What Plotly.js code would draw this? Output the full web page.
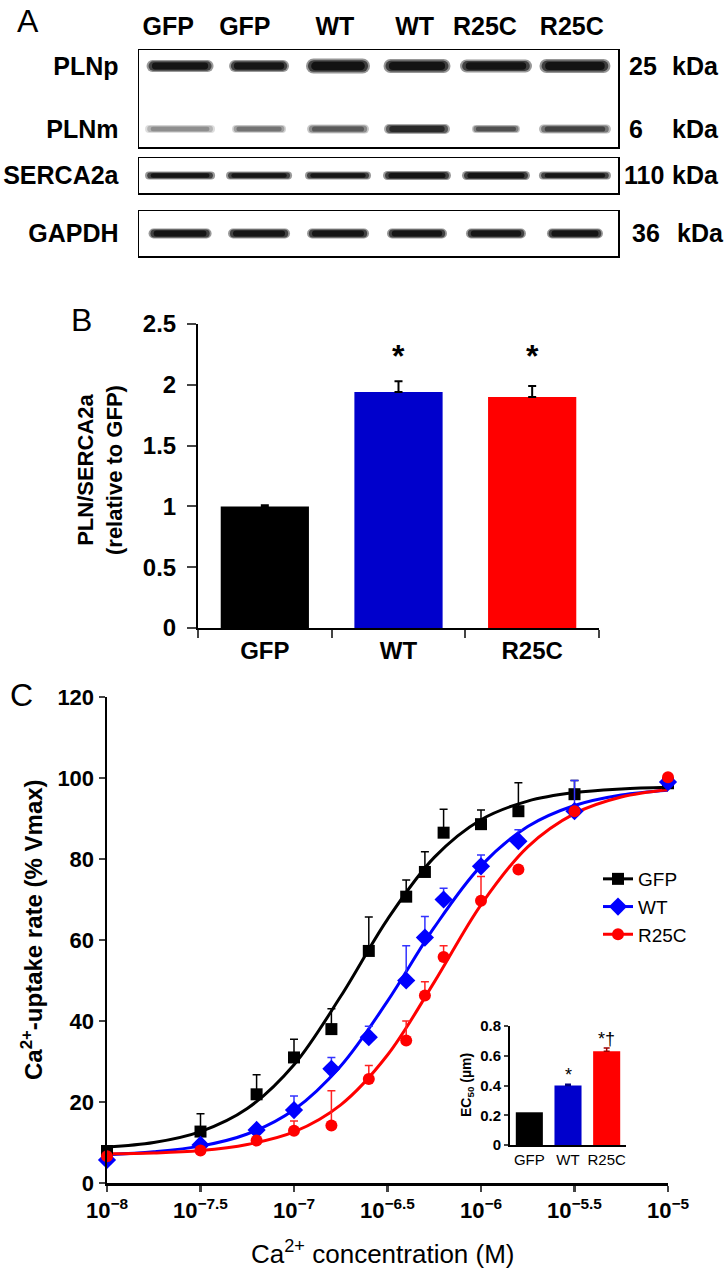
<!DOCTYPE html>
<html><head><meta charset="utf-8">
<script src="https://cdn.plot.ly/plotly-3.0.1.min.js"></script>
<style>body{margin:0;background:#fff} path.point{stroke-linecap:round}</style></head>
<body><div id="chart" style="width:724px;height:1280px"></div>
<script>
// ---------- Panel A: western blot ----------
const lanes = [1, 2, 3, 4, 5, 6];
const laneLabels = ['GFP', 'GFP', 'WT', 'WT', 'R25C', 'R25C'];
const blotRows = ['PLNp', 'PLNm', 'SERCA2a', 'GAPDH'];
const kdaNumbers = ['25', '6', '110', '36'];
const plnpIntensity = [0.95, 0.94, 0.98, 0.97, 0.96, 0.97];
const plnmIntensity = [0.3, 0.4, 0.5, 0.78, 0.55, 0.62];
const sercaIntensity = [0.95, 0.94, 0.94, 0.96, 0.96, 0.94];
const gapdhIntensity = [0.96, 0.94, 0.95, 0.95, 0.94, 0.95];

// ---------- Panel B ----------
const groups = ['GFP', 'WT', 'R25C'];
const plnRatio = [1.0, 1.94, 1.90];
const plnRatioErr = [0.01, 0.09, 0.09];

// ---------- Panel C ----------
const concExp = [-8, -7.5, -7.2, -7, -6.8, -6.6, -6.4, -6.3, -6.2, -6, -5.8, -5.5, -5];
const gfpUptake = [7.9, 12.7, 21.9, 31.0, 38.0, 57.3, 70.7, 76.8, 86.5, 88.6, 91.8, 96.0, 98.7];
const gfpErr = [0, 4.4, 4.8, 4.5, 5.0, 8.4, 4.1, 5.0, 5.8, 3.5, 7.0, 3.4, 0];
const wtUptake = [5.7, 9.4, 13.1, 18.0, 28.2, 36.0, 50.0, 60.6, 70.0, 78.2, 84.4, 91.8, 99.0];
const wtErr = [0, 0, 0, 3.5, 2.8, 2.7, 8.6, 5.2, 2.8, 2.8, 2.8, 7.6, 0];
const r25cUptake = [6.6, 8.0, 10.5, 12.9, 14.2, 25.7, 35.2, 46.3, 55.8, 69.7, 77.4, 91.8, 100.2];
const r25cErr = [0, 0, 0, 2.4, 8.6, 3.3, 4.8, 3.4, 2.8, 6.0, 0, 0, 0];
// fitted curves
const fitExp = [-8, -7.75, -7.5, -7.25, -7, -6.75, -6.5, -6.25, -6, -5.75, -5.5, -5.25, -5];
const gfpFit = [8.9, 10.0, 12.7, 18.4, 29.2, 46.1, 65.1, 80.4, 89.7, 94.3, 96.4, 97.3, 97.7];
const wtFit = [7.0, 7.7, 9.1, 12.1, 18.1, 28.9, 44.9, 63.1, 78.3, 88.0, 93.2, 95.8, 97.0];
const r25cFit = [7.2, 7.4, 8.0, 9.5, 12.6, 19.3, 31.6, 49.6, 68.7, 83.0, 91.2, 95.3, 97.1];
const xTickExp = [-8, -7.5, -7, -6.5, -6, -5.5, -5];
const xTickText = ['10<sup>−8</sup>', '10<sup>−7.5</sup>', '10<sup>−7</sup>', '10<sup>−6.5</sup>', '10<sup>−6</sup>', '10<sup>−5.5</sup>', '10<sup>−5</sup>'];
// inset
const ec50 = [0.22, 0.40, 0.63];
const ec50Err = [0.0, 0.008, 0.022];

// ---------- styles ----------
const F = '"Liberation Sans", Arial, sans-serif';
const px = x => x / 724;
const py = y => 1 - y / 1280;
const colC = ['#000000', '#0000ff', '#ff0000'];
const colB = ['#000000', '#0000cc', '#ff0000'];
const laneLabelShift = [-0.15, -0.18, -0.04, -0.03, -0.14, -0.04];
const plnpLen = [67, 60, 64, 67, 72, 71], plnpThick = [12, 12, 15, 14, 13, 14];
const plnmLen = [70, 54, 62, 66, 48, 72], plnmThick = [8, 8, 9, 10, 8, 9];
const sercaLen = [70, 66, 66, 68, 68, 72], sercaThick = [8, 8, 8, 9, 9, 8];
const gapdhLen = [63, 62, 62, 60, 60, 56], gapdhThick = [10, 10, 10, 10, 10, 10];

// line-ew marker length = 1.4 * size, plus round caps (thickness)
function bandTraces(xa, ya, rowY, inten, lens, thick) {
  const base = {type: 'scatter', mode: 'markers', xaxis: xa, yaxis: ya, x: lanes,
    y: lanes.map(() => rowY), showlegend: false, hoverinfo: 'skip', cliponaxis: false};
  const layer = (lenF, thF, aF) => Object.assign({}, base, {marker: {symbol: 'line-ew',
    size: lens.map((v, i) => Math.max(1, (v * lenF - thick[i] * thF) / 1.4)),
    line: {width: thick.map(v => v * thF), color: inten.map(v => `rgba(0,0,0,${Math.min(1, v * aF).toFixed(3)})`)}}});
  return [layer(1, 1.0, 0.6), layer(0.94, 0.78, 0.85), layer(0.84, 0.58, 1.0)];
}

const traces = [];
traces.push(...bandTraces('x5', 'y5', 1, plnpIntensity, plnpLen, plnpThick));
traces.push(...bandTraces('x5', 'y5', 0, plnmIntensity, plnmLen, plnmThick));
traces.push(...bandTraces('x6', 'y6', 0, sercaIntensity, sercaLen, sercaThick));
traces.push(...bandTraces('x7', 'y7', 0, gapdhIntensity, gapdhLen, gapdhThick));

// Panel B bars
traces.push({type: 'bar', xaxis: 'x2', yaxis: 'y2', x: groups, y: plnRatio, width: 0.66,
  marker: {color: colB, line: {width: 0}}, showlegend: false, hoverinfo: 'skip',
  error_y: {type: 'data', symmetric: false, array: plnRatioErr, arrayminus: plnRatioErr.map(() => 0),
    color: '#000', thickness: 2, width: 4}});

// Panel C fits + points
const names = ['GFP', 'WT', 'R25C'];
const fits = [gfpFit, wtFit, r25cFit];
const pts = [gfpUptake, wtUptake, r25cUptake];
const errs = [gfpErr, wtErr, r25cErr];
const symbols = ['square', 'diamond', 'circle'];
const sizes = [12, 14, 12];
const errCol = ['#000000', '#3333ff', '#ff2222'];
fits.forEach((f, i) => traces.push({type: 'scatter', mode: 'lines', xaxis: 'x', yaxis: 'y',
  x: fitExp.map(e => Math.pow(10, e)), y: f, line: {color: colC[i], width: 3, shape: 'spline'},
  showlegend: false, hoverinfo: 'skip'}));
pts.forEach((p, i) => traces.push({type: 'scatter', mode: 'markers', xaxis: 'x', yaxis: 'y',
  x: concExp.map(e => Math.pow(10, e)), y: p, cliponaxis: false,
  marker: {symbol: symbols[i], size: sizes[i], color: colC[i]},
  error_y: {type: 'data', symmetric: false, array: errs[i], arrayminus: errs[i].map(() => 0),
    color: errCol[i], thickness: 1.5, width: 4},
  showlegend: false, hoverinfo: 'skip'}));
names.forEach((n, i) => traces.push({type: 'scatter', mode: 'lines+markers', xaxis: 'x', yaxis: 'y',
  x: [null], y: [null], name: n, line: {color: colC[i], width: 3},
  marker: {symbol: symbols[i], size: sizes[i], color: colC[i]}}));

// inset
groups.forEach((g, i) => traces.push({type: 'bar', xaxis: 'x4', yaxis: 'y4', x: [g], y: [ec50[i]], width: 0.7,
  marker: {color: colB[i], line: {width: 0}}, showlegend: false, hoverinfo: 'skip',
  error_y: {type: 'data', symmetric: false, array: [ec50Err[i]], arrayminus: [0],
    color: i === 0 ? '#000' : (i === 1 ? '#000080' : '#a00000'), thickness: 1.5, width: 3, visible: ec50Err[i] > 0}}));

const blotX = {range: [0.48, 6.545], showline: true, mirror: true, linewidth: 1.5, linecolor: '#000',
  ticks: '', showticklabels: false, showgrid: false, zeroline: false};
const blotY = (vals, names, rng, dom, anc) => ({domain: dom, anchor: anc, range: rng,
  tickmode: 'array', tickvals: vals, ticktext: names,
  showline: true, mirror: true, linewidth: 1.5, linecolor: '#000',
  ticks: '', showgrid: false, zeroline: false, tickfont: {size: 25, weight: 'bold'}, ticklabelstandoff: 14});

const ann = [];
const A = (o) => ann.push(Object.assign({showarrow: false, xanchor: 'center', yanchor: 'middle'}, o));
// panel letters
A({xref: 'paper', yref: 'paper', x: px(28), y: py(21), text: 'A', font: {size: 32}});
A({xref: 'paper', yref: 'paper', x: px(81), y: py(320), text: 'B', font: {size: 32}});
A({xref: 'paper', yref: 'paper', x: px(21), y: py(695), text: 'C', font: {size: 32}});
// kDa labels
const kdaRowRefs = [['y5', 1], ['y5', 0], ['y6', 0], ['y7', 0]];
const numLeft = [627, 627, 622, 630], kdaLeft = [670, 670, 670, 675];
kdaNumbers.forEach((n, i) => {
  A({xref: 'paper', yref: kdaRowRefs[i][0], x: px(numLeft[i]), y: kdaRowRefs[i][1], xanchor: 'left',
    text: n, font: {size: 25, weight: 'bold'}});
  A({xref: 'paper', yref: kdaRowRefs[i][0], x: px(kdaLeft[i]), y: kdaRowRefs[i][1], xanchor: 'left',
    text: 'kDa', font: {size: 25, weight: 'bold'}});
});
// panel B
A({xref: 'paper', yref: 'paper', x: px(100), y: py(470), textangle: -90,
  text: 'PLN/SERCA2a<br>(relative to GFP)', font: {size: 22, weight: 'bold'}});
A({xref: 'x2', yref: 'y2', x: 'WT', y: 2.24, text: '*', font: {size: 32, weight: 'bold'}});
A({xref: 'x2', yref: 'y2', x: 'R25C', y: 2.24, text: '*', font: {size: 32, weight: 'bold'}});
// panel C titles
A({xref: 'paper', yref: 'paper', x: px(32), y: py(930), textangle: -90,
  text: 'Ca<sup>2+</sup>-uptake rate (% Vmax)', font: {size: 24, weight: 'bold'}});
A({xref: 'paper', yref: 'paper', x: px(383), y: py(1252),
  text: 'Ca<sup>2+</sup> concentration (M)', font: {size: 26}});
// inset
A({xref: 'paper', yref: 'paper', x: px(467), y: py(1085), textangle: -90,
  text: 'EC<sub>50</sub> (µm)', font: {size: 14, weight: 'bold'}});
A({xref: 'x4', yref: 'y4', x: 'WT', y: 0.47, text: '*', font: {size: 18}});
A({xref: 'x4', yref: 'y4', x: 'R25C', y: 0.71, text: '*†', font: {size: 18}});

const layout = {
  width: 724, height: 1280, margin: {l: 0, r: 0, t: 0, b: 0},
  paper_bgcolor: '#fff', plot_bgcolor: 'rgba(0,0,0,0)',
  font: {family: F, color: '#000'}, barmode: 'overlay', showlegend: true,
  legend: {x: px(598), y: py(860), xanchor: 'left', yanchor: 'top', font: {size: 19},
    bgcolor: 'rgba(0,0,0,0)', tracegroupgap: 0, itemwidth: 30},
  xaxis: {domain: [px(107), px(668)], anchor: 'y', type: 'log', range: [-8, -5],
    tickmode: 'array', tickvals: xTickExp.map(e => Math.pow(10, e)), ticktext: xTickText,
    ticks: 'outside', ticklen: 6, tickwidth: 2.5, showline: true, linewidth: 2.5, linecolor: '#000',
    showgrid: false, zeroline: false, tickfont: {size: 22, weight: 'bold'}},
  yaxis: {domain: [py(1183), py(697)], anchor: 'x', range: [0, 120], tickmode: 'linear', tick0: 0, dtick: 20,
    ticks: 'outside', ticklen: 6, tickwidth: 2.5, showline: true, linewidth: 2.5, linecolor: '#000',
    showgrid: false, zeroline: false, tickfont: {size: 22, weight: 'bold'}},
  xaxis2: {domain: [px(198), px(599)], anchor: 'y2', type: 'category', range: [-0.5, 2.5],
    tickson: 'boundaries', ticks: 'outside', ticklen: 8, tickwidth: 2, showline: true, linewidth: 2,
    linecolor: '#000', showgrid: false, zeroline: false, tickfont: {size: 24, weight: 'bold'}},
  yaxis2: {domain: [py(628), py(324)], anchor: 'x2', range: [0, 2.5], tickmode: 'linear', tick0: 0, dtick: 0.5,
    ticks: 'outside', ticklen: 9, tickwidth: 2, showline: true, linewidth: 2, linecolor: '#000',
    showgrid: false, zeroline: false, tickfont: {size: 24, weight: 'bold'}, ticklabelstandoff: 6},
  xaxis4: {domain: [px(510), px(626)], anchor: 'y4', type: 'category', range: [-0.5, 2.5],
    ticks: '', showline: true, linewidth: 2, linecolor: '#000', showgrid: false, zeroline: false,
    tickfont: {size: 15}},
  yaxis4: {domain: [py(1145), py(1026)], anchor: 'x4', range: [0, 0.8], tickmode: 'linear', tick0: 0, dtick: 0.2,
    ticks: 'outside', ticklen: 4, tickwidth: 2, showline: true, linewidth: 2, linecolor: '#000',
    showgrid: false, zeroline: false, tickfont: {size: 15, weight: 'bold'}},
  xaxis5: Object.assign({}, blotX, {domain: [px(139), px(618)], anchor: 'y5', side: 'top',
    showticklabels: true, tickmode: 'array', tickvals: lanes.map((l, i) => l + laneLabelShift[i]),
    ticktext: laneLabels, tickfont: {size: 25, weight: 'bold'}, ticklabelstandoff: 4}),
  yaxis5: blotY([1, 0], ['PLNp', 'PLNm'], [-0.286, 1.254], [py(147), py(50)], 'x5'),
  xaxis6: Object.assign({}, blotX, {domain: [px(139), px(618)], anchor: 'y6'}),
  yaxis6: blotY([0], ['SERCA2a'], [-0.5, 0.5], [py(193), py(158)], 'x6'),
  xaxis7: Object.assign({}, blotX, {domain: [px(139), px(618)], anchor: 'y7'}),
  yaxis7: blotY([0], ['GAPDH'], [-0.5, 0.5], [py(256), py(211)], 'x7'),
  annotations: ann
};

Plotly.newPlot('chart', traces, layout, {displayModeBar: false, staticPlot: true});
</script></body></html>
